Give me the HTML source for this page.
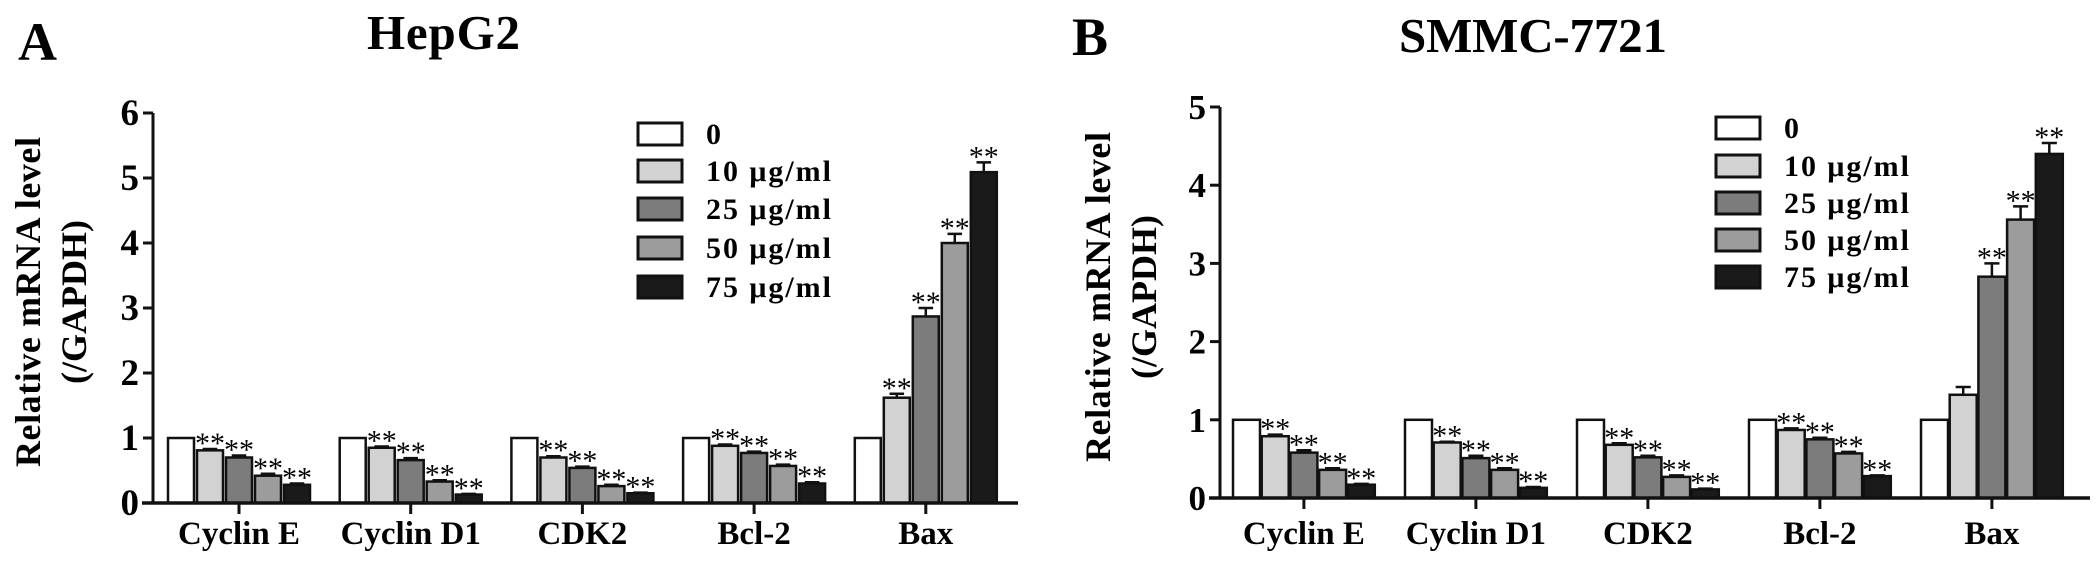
<!DOCTYPE html>
<html><head><meta charset="utf-8"><style>
html,body{margin:0;padding:0;background:#fff;}
svg{display:block;font-family:"Liberation Serif","Times New Roman",serif;font-weight:bold;}
</style></head><body>
<svg id="fig" width="2097" height="570" viewBox="0 0 2097 570" xmlns="http://www.w3.org/2000/svg">
<rect width="2097" height="570" fill="#fff"/>
<text x="18" y="60" font-size="54">A</text>
<text x="367" y="49" font-size="49" textLength="153">HepG2</text>
<text x="1072" y="55" font-size="54">B</text>
<text x="1399" y="52" font-size="49" textLength="268">SMMC-7721</text>
<g id="pa"></g>
<g id="pb"></g>
</svg>
<script>
const categories = ["Cyclin E","Cyclin D1","CDK2","Bcl-2","Bax"];
const seriesNames = ["0","10 μg/ml","25 μg/ml","50 μg/ml","75 μg/ml"];
const seriesColors = ["#ffffff","#d2d2d2","#7c7c7c","#9c9c9c","#1a1a1a"];
// Panel A (HepG2) values: rows = categories, cols = doses
const hepValues = [
  [1,0.81,0.70,0.42,0.28],
  [1,0.85,0.66,0.33,0.13],
  [1,0.70,0.54,0.26,0.15],
  [1,0.88,0.77,0.57,0.30],
  [1,1.62,2.87,4.00,5.09]
];
const hepErrors = [
  [0,0.02,0.03,0.03,0.02],
  [0,0.02,0.03,0.02,0.01],
  [0,0.02,0.02,0.02,0.01],
  [0,0.02,0.02,0.02,0.02],
  [0,0.06,0.13,0.14,0.15]
];
const hepSig = [
  [0,1,1,1,1],[0,1,1,1,1],[0,1,1,1,1],[0,1,1,1,1],[0,1,1,1,1]
];
const hepTicks = [0,1,2,3,4,5,6];
// Panel B (SMMC-7721)
const smmcValues = [
  [1,0.79,0.58,0.36,0.17],
  [1,0.71,0.51,0.36,0.13],
  [1,0.68,0.52,0.27,0.11],
  [1,0.87,0.75,0.57,0.28],
  [1,1.32,2.83,3.56,4.40]
];
const smmcErrors = [
  [0,0.02,0.03,0.02,0.01],
  [0,0.01,0.03,0.02,0.01],
  [0,0.02,0.02,0.02,0.01],
  [0,0.02,0.02,0.02,0.01],
  [0,0.10,0.17,0.17,0.14]
];
const smmcSig = [
  [0,1,1,1,1],[0,1,1,1,1],[0,1,1,1,1],[0,1,1,1,1],[0,0,1,1,1]
];
const smmcTicks = [0,1,2,3,4,5];

const NS = "http://www.w3.org/2000/svg";
function mk(parent, tag, attrs){
  const e = document.createElementNS(NS, tag);
  for (const k in attrs) e.setAttribute(k, attrs[k]);
  parent.appendChild(e);
  return e;
}

function drawPanel(g, cfg, values, errors, sig, ticks){
  const yMax = ticks[ticks.length-1];
  const y = v => cfg.y0 - (v / yMax) * (cfg.y0 - cfg.yTop);
  const barX = (ci, si) => cfg.x0 + ci * cfg.groupStep + si * cfg.barStep;
  // bars
  values.forEach((row, ci) => {
    row.forEach((v, si) => {
      const x = barX(ci, si);
      const r = mk(g, "rect", {x: x, y: y(v), width: cfg.barW, height: cfg.y0 - y(v), fill: seriesColors[si], stroke: "#111", "stroke-width": 2.5});
      
      
      const e = errors[ci][si];
      const cx = x + cfg.barW / 2;
      let topY = y(v);
      if (e > 0) {
        const ey = y(v + e);
        const el = mk(g, "path", {d: "M"+cx+" "+y(v)+"V"+ey+"M"+(cx-cfg.barW*0.28)+" "+ey+"H"+(cx+cfg.barW*0.28), stroke: "#111", "stroke-width": 2.5, fill: "none"});
        
        
        topY = ey;
      }
      if (sig[ci][si]) {
        const t = mk(g, "text", {x: cx, y: topY + 4, "text-anchor": "middle", "font-size": 30, "font-weight": "normal"});
        t.textContent = "**";
        
        
      }
    });
    // x tick & label
    const gc = barX(ci, 0) + (4 * cfg.barStep + cfg.barW) / 2;
    const tk = mk(g, "line", {x1: gc, x2: gc, y1: cfg.y0, y2: cfg.y0 + 11, stroke: "#111", "stroke-width": 3});
    
    
    const lb = mk(g, "text", {x: gc, y: 544, "text-anchor": "middle", "font-size": 33});
    lb.textContent = categories[ci];
    
    
  });
  // axes
  const ax = mk(g, "line", {x1: cfg.axX, x2: cfg.axX, y1: cfg.yTop, y2: cfg.y0, stroke: "#111", "stroke-width": 3});
  
  
  const xa = mk(g, "line", {x1: cfg.axX - 11, x2: cfg.xEnd, y1: cfg.y0, y2: cfg.y0, stroke: "#111", "stroke-width": 3.5});
  
  
  ticks.forEach(t => {
    const ty = y(t);
    const l = mk(g, "line", {x1: cfg.axX - 10, x2: cfg.axX, y1: ty, y2: ty, stroke: "#111", "stroke-width": 3});
    
    
    const tl = mk(g, "text", {x: cfg.axX - 14, y: ty + 12, "text-anchor": "end", "font-size": cfg.tickFont});
    tl.textContent = String(t);
    
    
  });
  // y title
  const yt = mk(g, "text", {transform: "translate("+cfg.titleX+","+cfg.titleY+") rotate(-90)", "text-anchor": "middle", "font-size": 36, textLength: 330});
  yt.textContent = "Relative mRNA level";
  
  
  const yt2 = mk(g, "text", {transform: "translate("+(cfg.titleX+46)+","+cfg.titleY+") rotate(-90)", "text-anchor": "middle", "font-size": 36});
  yt2.textContent = "(/GAPDH)";
  
  
  // legend
  seriesNames.forEach((n, i) => {
    const ly = cfg.legTops[i];
    const lr = mk(g, "rect", {x: cfg.legX, y: ly, width: 44, height: 22, fill: seriesColors[i], stroke: "#111", "stroke-width": 3});
    
    
    const lt = mk(g, "text", {x: cfg.legX + 68, y: ly + 21, "font-size": 30});
    if (i > 0) lt.setAttribute("textLength", 125);
    lt.textContent = n;
    
    
  });
}

drawPanel(document.getElementById("pa"),
  {x0:168, groupStep:171.7, barStep:29, barW:26, y0:503, yTop:113, axX:153, xEnd:1018, tickFont:37,
   titleX:40, titleY:302, legX:638, legTops:[123,160,198,237,276]},
  hepValues, hepErrors, hepSig, hepTicks);
drawPanel(document.getElementById("pb"),
  {x0:1233, groupStep:172, barStep:28.7, barW:27, y0:498, yTop:107, axX:1220, xEnd:2090, tickFont:35,
   titleX:1110, titleY:297, legX:1716, legTops:[117,155,192,229,266]},
  smmcValues, smmcErrors, smmcSig, smmcTicks);
</script>
</body></html>
